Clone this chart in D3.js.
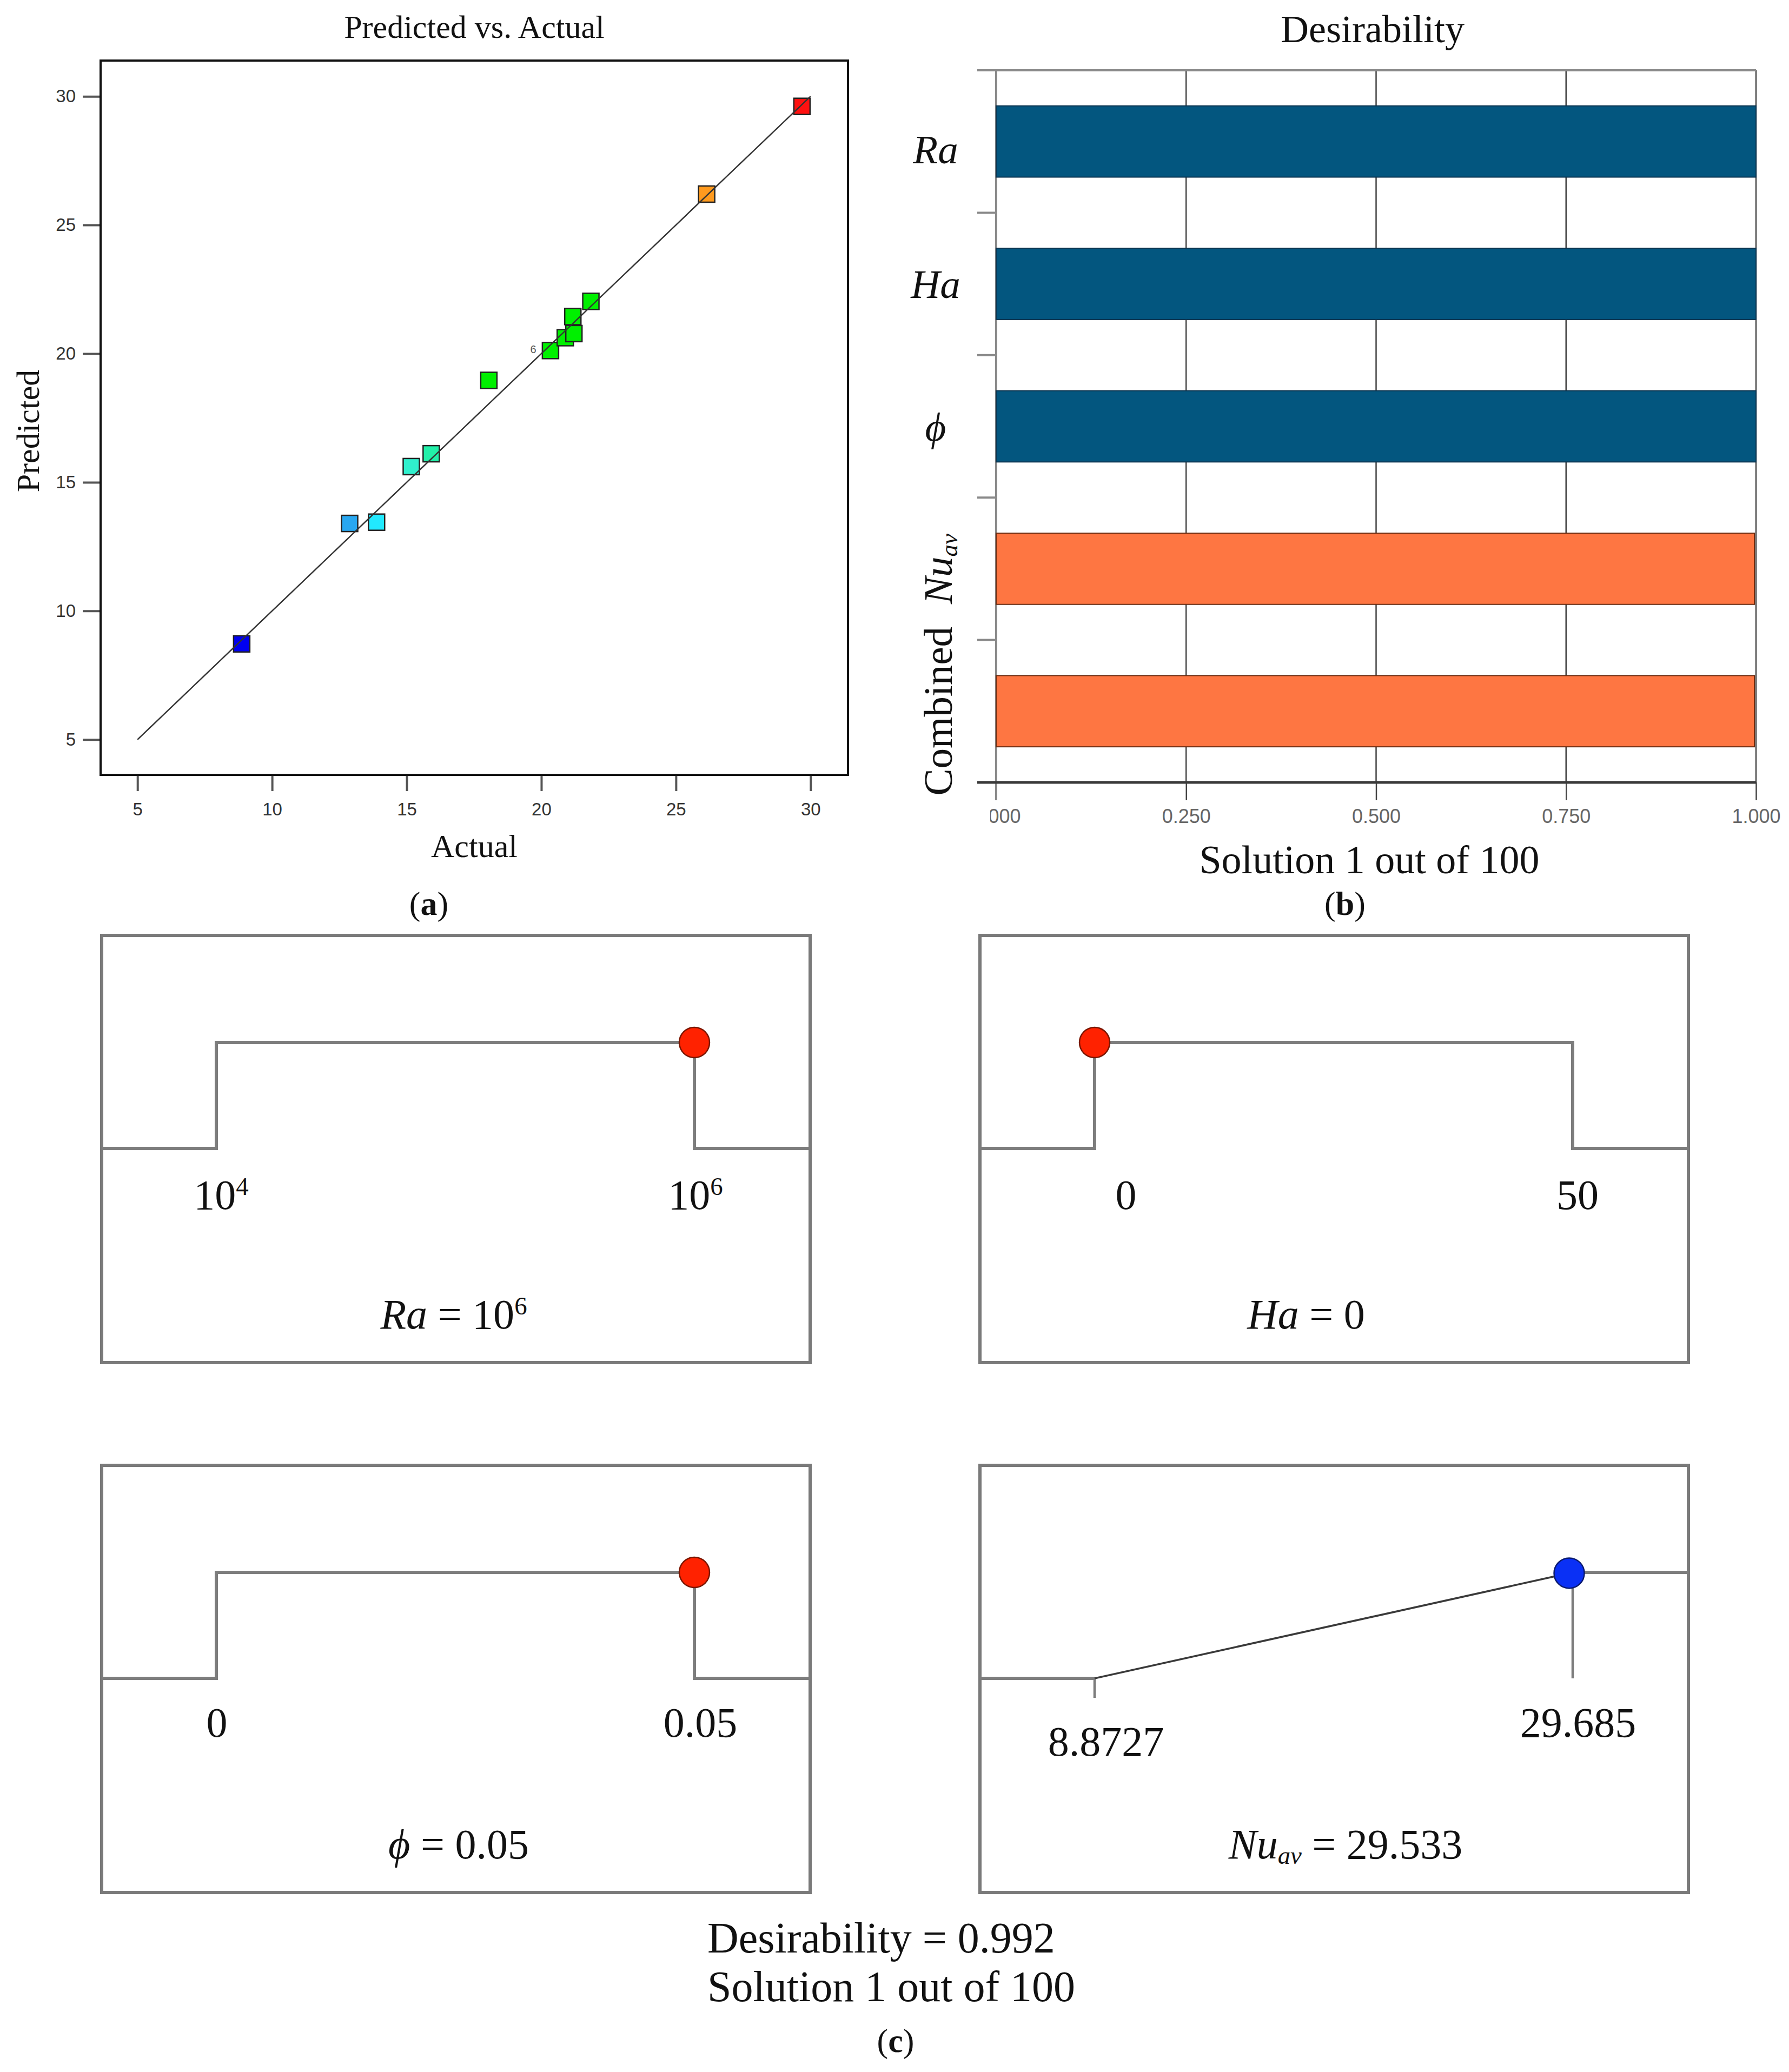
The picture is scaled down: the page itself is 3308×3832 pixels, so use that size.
<!DOCTYPE html>
<html>
<head>
<meta charset="utf-8">
<script src="https://cdn.jsdelivr.net/npm/d3@7"></script>
<style>
  body { margin: 0; background: #fff; }
  svg { display: block; }
  text { font-family: "Liberation Serif", "Times New Roman", serif; fill: #111; }
</style>
</head>
<body>
<svg id="fig"></svg>
<script>
// ---- panel (a): predicted vs actual ----
var actual    = [8.87, 12.88, 13.88, 15.17, 15.91, 18.05, 20.34, 20.89, 21.21, 21.17, 21.84, 26.14, 29.68];
var predicted = [8.72, 13.40, 13.45, 15.61, 16.11, 18.96, 20.12, 20.62, 20.78, 21.44, 22.03, 26.20, 29.61];
var ticksA = [5, 10, 15, 20, 25, 30];
var replicate = {actual: 19.70, predicted: 20.17, text: "6"};

// ---- panel (b): desirability bars ----
var desirCats   = ["Ra", "Ha", "phi", "Nu", "Combined"];
var desirValues = [1, 1, 1, 0.998, 0.998];
var desirTicks  = [0, 0.25, 0.5, 0.75, 1];
var desirLabels = [[["Ra", "i"]], [["Ha", "i"]], [["\u03D5", "i"]], [["Nu", "i"], ["av", "i sub"]], [["Combined", ""]]];

// ---- panel (c): ramps ----
var factorLow   = [1e4, 0, 0, 8.8727];
var factorHigh  = [1e6, 50, 0.05, 29.685];
var factorValue = [1e6, 0, 0.05, 29.533];
var factorGoal  = ["range", "range", "range", "max"];
var lowLabels   = [[["10", ""], ["4", "sup"]], [["0", ""]], [["0", ""]], [["8.8727", ""]]];
var highLabels  = [[["10", ""], ["6", "sup"]], [["50", ""]], [["0.05", ""]], [["29.685", ""]]];
var valueLabels = [
  [["Ra", "i"], [" = 10", ""], ["6", "sup"]],
  [["Ha", "i"], [" = 0", ""]],
  [["\u03D5", "i"], [" = 0.05", ""]],
  [["Nu", "i"], ["av", "i sub"], [" = 29.533", ""]]
];
var desirabilityText = "Desirability = 0.992";
var solutionText = "Solution 1 out of 100";

function writeParts(text, parts) {
  parts.forEach(function(p) {
    var ts = text.append("tspan").text(p[0]);
    if (p[1].indexOf("i") >= 0) ts.style("font-style", "italic");
    if (p[1].indexOf("sup") >= 0) ts.attr("baseline-shift", "0.55em").style("font-size", "60%");
    if (p[1].indexOf("sub") >= 0) ts.attr("baseline-shift", "-0.22em").style("font-size", "60%");
  });
}
function caption(x, y, letter) {
  var t = svg.append("text").attr("x", x).attr("y", y).attr("text-anchor", "middle").style("font-size", "62px");
  t.append("tspan").text("(");
  t.append("tspan").text(letter).style("font-weight", "bold");
  t.append("tspan").text(")");
}

var svg = d3.select("#fig").attr("width", 3308).attr("height", 3832);
svg.append("rect").attr("width", 3308).attr("height", 3832).attr("fill", "#fff");

// ================= panel (a) =================
var ga = svg.append("g");
var xa = d3.scaleLinear().domain([3.63, 31.39]).range([186, 1568]);
var ya = d3.scaleLinear().domain([3.63, 31.39]).range([1433, 112]);

var pointColor = d3.scaleLinear()
  .domain([8.87, 12.9, 13.9, 15.2, 16, 18, 22, 26.1, 29.7])
  .range(["#0000f0", "#28a8f0", "#22eaff", "#30f0cc", "#20f0a4", "#00f000", "#00f000", "#ff9c1e", "#ff1010"]);

var axB = ga.append("g").attr("transform", "translate(0,1433)")
  .call(d3.axisBottom(xa).tickValues(ticksA).tickSize(30).tickPadding(22));
var axL = ga.append("g").attr("transform", "translate(186,0)")
  .call(d3.axisLeft(ya).tickValues(ticksA).tickSize(33).tickPadding(13));
[axB, axL].forEach(function(ax) {
  ax.select(".domain").remove();
  ax.selectAll(".tick line").attr("stroke", "#555").attr("stroke-width", 4);
  ax.selectAll(".tick text").style("font-family", "'Liberation Sans', Arial, sans-serif")
    .style("font-size", "33px").style("fill", "#333");
});

ga.selectAll("rect.pt")
  .data(actual)
  .enter()
  .append("rect")
  .attr("class", "pt")
  .attr("x", function(d) { return xa(d) - 15; })
  .attr("y", function(d, i) { return ya(predicted[i]) - 15; })
  .attr("width", 30)
  .attr("height", 30)
  .attr("fill", function(d) { return pointColor(d); })
  .attr("stroke", "#222")
  .attr("stroke-width", 2.5);

ga.append("line")
  .attr("x1", xa(5)).attr("y1", ya(5))
  .attr("x2", xa(30)).attr("y2", ya(30))
  .attr("stroke", "#333").attr("stroke-width", 2.5);

ga.append("text")
  .attr("x", xa(replicate.actual)).attr("y", ya(replicate.predicted))
  .attr("text-anchor", "middle").attr("dy", "0.35em")
  .style("font-family", "'Liberation Sans', Arial, sans-serif")
  .style("font-size", "20px").style("fill", "#555")
  .text(replicate.text);

ga.append("rect")
  .attr("x", 186).attr("y", 112).attr("width", 1382).attr("height", 1321)
  .attr("fill", "none").attr("stroke", "#111").attr("stroke-width", 4);

ga.append("text").attr("x", 877).attr("y", 70).attr("text-anchor", "middle")
  .style("font-size", "60px").text("Predicted vs. Actual");
ga.append("text").attr("x", 877).attr("y", 1585).attr("text-anchor", "middle")
  .style("font-size", "60px").text("Actual");
ga.append("text").attr("transform", "translate(72,797) rotate(-90)").attr("text-anchor", "middle")
  .style("font-size", "60px").text("Predicted");
caption(793, 1692, "a");

// ================= panel (b) =================
svg.append("clipPath").attr("id", "clipB")
  .append("rect").attr("x", 1831).attr("y", 0).attr("width", 1477).attr("height", 1700);
var gb = svg.append("g");
var gbClip = gb.append("g").attr("clip-path", "url(#clipB)");

var xb = d3.scaleLinear().domain([0, 1]).range([1842, 3247]);
var yb = d3.scaleBand().domain(desirCats).range([130, 1447]).paddingInner(0.5).paddingOuter(0.25);
var barFill = d3.scaleOrdinal().domain(desirCats).range(["#03567f", "#03567f", "#03567f", "#fe7642", "#fe7642"]);
var barEdge = d3.scaleOrdinal().domain(desirCats).range(["#0b3450", "#0b3450", "#0b3450", "#6e2c10", "#6e2c10"]);

var boundaries = desirCats.map(function(c) { return yb(c) - yb.step() * 0.25; }).concat([1447]);

// gridlines
gb.selectAll("line.grid")
  .data(desirTicks.slice(1))
  .enter()
  .append("line")
  .attr("class", "grid")
  .attr("x1", function(d) { return xb(d); }).attr("x2", function(d) { return xb(d); })
  .attr("y1", 130).attr("y2", 1447)
  .attr("stroke", "#444").attr("stroke-width", 2.5);

// category boundary ticks and frame lines
gb.selectAll("line.bnd")
  .data(boundaries)
  .enter()
  .append("line")
  .attr("class", "bnd")
  .attr("x1", 1807).attr("x2", xb(0))
  .attr("y1", function(d) { return d; }).attr("y2", function(d) { return d; })
  .attr("stroke", "#8a8a8a").attr("stroke-width", 4);
gb.append("line").attr("x1", 1807).attr("x2", xb(1)).attr("y1", 130).attr("y2", 130)
  .attr("stroke", "#8a8a8a").attr("stroke-width", 4);
gb.append("line").attr("x1", xb(0)).attr("x2", xb(0)).attr("y1", 130).attr("y2", 1480)
  .attr("stroke", "#8a8a8a").attr("stroke-width", 4);

gb.selectAll("rect.bar")
  .data(desirCats)
  .enter()
  .append("rect")
  .attr("class", "bar")
  .attr("x", xb(0))
  .attr("y", function(d) { return yb(d); })
  .attr("width", function(d, i) { return xb(desirValues[i]) - xb(0); })
  .attr("height", yb.bandwidth())
  .attr("fill", function(d) { return barFill(d); })
  .attr("stroke", function(d) { return barEdge(d); })
  .attr("stroke-width", 2);

var axDb = gbClip.append("g").attr("transform", "translate(0,1447)")
  .call(d3.axisBottom(xb).tickValues(desirTicks).tickFormat(d3.format(".3f")).tickSize(33).tickPadding(16));
axDb.select(".domain").remove();
axDb.selectAll(".tick line").attr("stroke", "#444").attr("stroke-width", 2.5);
axDb.selectAll(".tick text").style("font-family", "'Liberation Sans', Arial, sans-serif")
  .style("font-size", "36px").style("fill", "#666");

gb.append("line").attr("x1", 1807).attr("x2", xb(1)).attr("y1", 1447).attr("y2", 1447)
  .attr("stroke", "#3a3a3a").attr("stroke-width", 5);

var rotated = [false, false, false, true, true];
var labelDy = [14, 0, 0, 0, 0];
desirCats.forEach(function(c, i) {
  var cy = yb(c) + yb.bandwidth() / 2 + labelDy[i];
  var t = gb.append("text").attr("text-anchor", "middle").style("font-size", "75px");
  if (rotated[i]) {
    t.attr("transform", "translate(1760," + cy + ") rotate(-90)");
  } else {
    t.attr("x", 1730).attr("y", cy).attr("dy", "0.35em");
  }
  writeParts(t, desirLabels[i]);
});

gb.append("text").attr("x", 2538).attr("y", 78).attr("text-anchor", "middle")
  .style("font-size", "72px").text("Desirability");
gb.append("text").attr("x", 2532).attr("y", 1615).attr("text-anchor", "middle")
  .style("font-size", "74px").text(solutionText);
caption(2487, 1692, "b");

// ================= panel (c) =================
var boxX = [188, 1812, 188, 1812];
var boxY = [1730, 1730, 2710, 2710];
var boxW = 1310, boxH = 790;
var lowShift = [9, 58, 1, 21];
var highShift = [2, 9, 11, 10];
var lowBase = [506, 506, 502, 537];
var highBase = [506, 506, 502, 502];
var capShift = [-4, -52, 5, 21];

function desirability(i, v) {
  if (factorGoal[i] === "range") return (v >= factorLow[i] && v <= factorHigh[i]) ? 1 : 0;
  return Math.max(0, Math.min(1, (v - factorLow[i]) / (factorHigh[i] - factorLow[i])));
}

var line = d3.line();
factorLow.forEach(function(lo, i) {
  var bx = boxX[i], by = boxY[i];
  var g = svg.append("g");
  var x = (i === 0 ? d3.scaleLog() : d3.scaleLinear()).domain([lo, factorHigh[i]]).range([bx + 212, bx + 1096]);
  var y = d3.scaleLinear().domain([0, 1]).range([by + 394, by + 198]);
  var hi = factorHigh[i];

  g.append("rect").attr("x", bx).attr("y", by).attr("width", boxW).attr("height", boxH)
    .attr("fill", "none").attr("stroke", "#7a7a7a").attr("stroke-width", 6);

  if (factorGoal[i] === "range") {
    g.append("path")
      .attr("d", line([[bx, y(0)], [x(lo), y(0)], [x(lo), y(1)], [x(hi), y(1)], [x(hi), y(0)], [bx + boxW, y(0)]]))
      .attr("fill", "none").attr("stroke", "#7d7d7d").attr("stroke-width", 6);
  } else {
    g.append("path").attr("d", line([[bx, y(0)], [x(lo), y(0)]]))
      .attr("fill", "none").attr("stroke", "#7d7d7d").attr("stroke-width", 6);
    g.append("path").attr("d", line([[x(hi), y(1)], [bx + boxW, y(1)]]))
      .attr("fill", "none").attr("stroke", "#7d7d7d").attr("stroke-width", 6);
    g.append("path").attr("d", line([[x(hi), y(1)], [x(hi), y(0)]]))
      .attr("fill", "none").attr("stroke", "#7d7d7d").attr("stroke-width", 4.5);
    g.append("path").attr("d", line([[x(lo), y(0)], [x(lo), y(0) + 36]]))
      .attr("fill", "none").attr("stroke", "#7d7d7d").attr("stroke-width", 4.5);
    g.append("path").attr("d", line([[x(lo), y(0)], [x(hi), y(1)]]))
      .attr("fill", "none").attr("stroke", "#3a3a3a").attr("stroke-width", 3.5);
  }

  var v = factorValue[i];
  g.append("circle")
    .attr("cx", x(v)).attr("cy", y(desirability(i, v)))
    .attr("r", 28)
    .attr("fill", factorGoal[i] === "range" ? "#ff2200" : "#0a30f5")
    .attr("stroke", factorGoal[i] === "range" ? "#7a1500" : "#0a1a70")
    .attr("stroke-width", 2.5);

  var tl = g.append("text").attr("x", x(lo) + lowShift[i]).attr("y", by + lowBase[i])
    .attr("text-anchor", "middle").style("font-size", "78px");
  writeParts(tl, lowLabels[i]);
  var th = g.append("text").attr("x", x(hi) + highShift[i]).attr("y", by + highBase[i])
    .attr("text-anchor", "middle").style("font-size", "78px");
  writeParts(th, highLabels[i]);
  var tc = g.append("text").attr("x", bx + boxW / 2 + capShift[i]).attr("y", by + 727)
    .attr("text-anchor", "middle").style("font-size", "78px");
  writeParts(tc, valueLabels[i]);
});

svg.append("text").attr("x", 1308).attr("y", 3611).style("font-size", "80px").text(desirabilityText);
svg.append("text").attr("x", 1308).attr("y", 3701).style("font-size", "80px").text(solutionText);
caption(1656, 3795, "c");
</script>
</body>
</html>
